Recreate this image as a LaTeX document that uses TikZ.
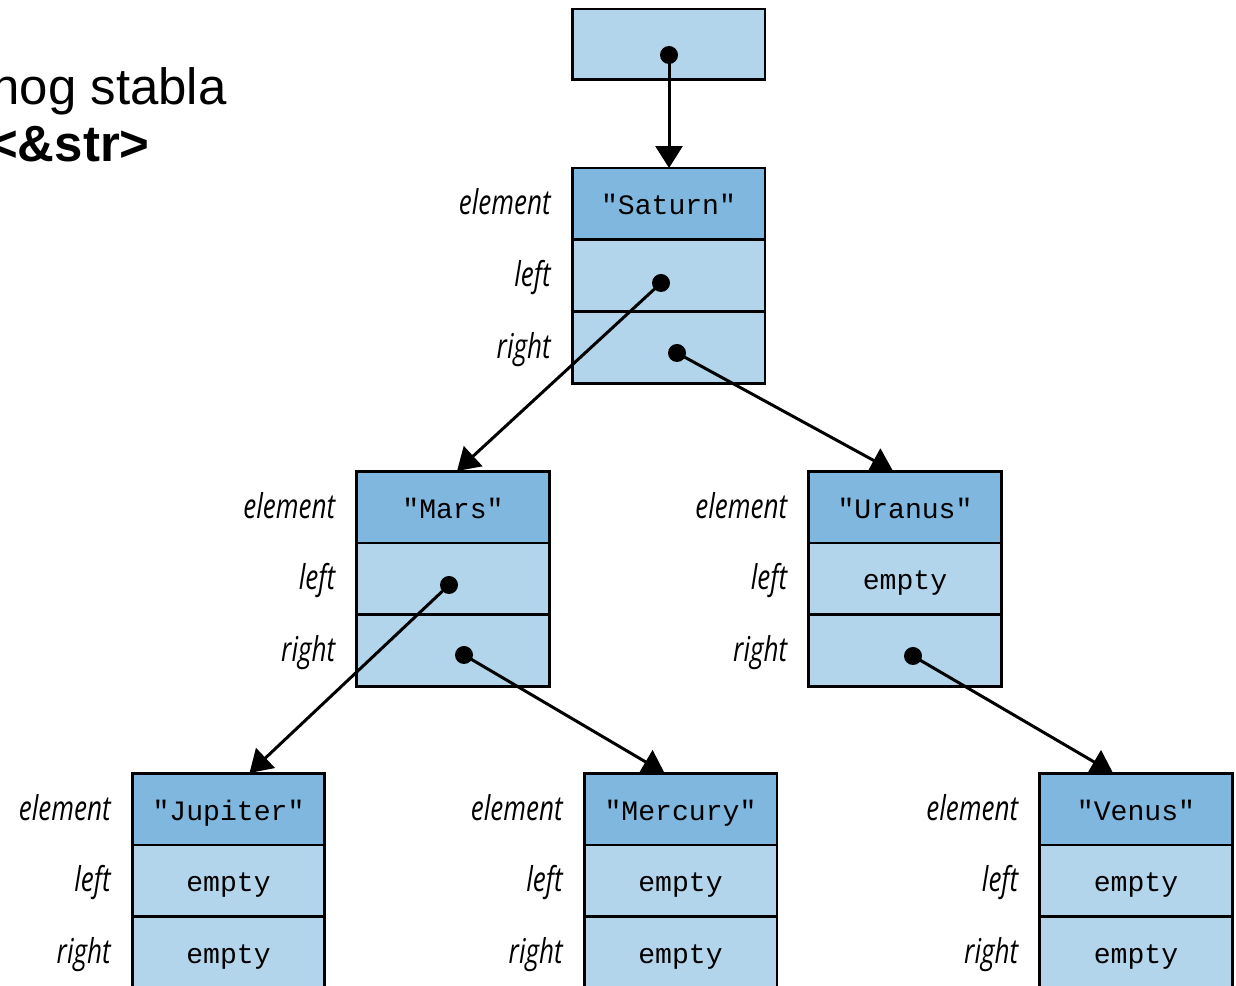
\documentclass[tikz,border=0pt]{standalone}
\usepackage{fontspec}
\setmainfont{Liberation Sans}
\newfontfamily\cellfont{Liberation Mono}
\newfontfamily\lblfont[FakeStretch=0.76]{Open Sans}
\usetikzlibrary{arrows.meta,positioning,calc}
\definecolor{elemblue}{RGB}{128,183,222}
\definecolor{cellblue}{RGB}{178,213,235}

\begin{document}
\begin{tikzpicture}[x=0.02cm,y=-0.02cm,
  cell/.style={draw,line width=1.7pt,fill=cellblue,minimum width=3.86cm,minimum height=1.44cm,
    inner sep=0pt,outer sep=0pt,font=\cellfont\fontsize{16}{16}\selectfont,text height=0.5cm,text depth=0.06cm},
  elem/.style={cell,fill=elemblue},
  lbl/.style={font=\lblfont\itshape\fontsize{19.5}{19.5}\selectfont,inner sep=0pt,
    text height=0.5cm,text depth=0.06cm,label distance=0.42cm},
  dot/.style={circle,fill=black,inner sep=0pt,minimum size=0.36cm},
  ptr/.style={line width=1.7pt,-{Triangle[width=0.54cm,length=0.44cm]}}]
\useasboundingbox (0,0) rectangle (1236,986);

% title, cut off by the page edge
\node[anchor=base east,inner sep=0pt,font=\fontsize{29}{29}\selectfont] (title) at (227,105) {nog stabla};
\node[anchor=base east,inner sep=0pt,font=\bfseries\fontsize{29}{29}\selectfont] (type) at (150,162) {<\&str>};

% root
\node[cell,minimum height=1.42cm] (root) at (668.5,44.5) {};

% Saturn
\node[elem,label={[lbl]left:element}] (sat-e) at (668.5,204) {"Saturn"};
\node[cell,below=0pt of sat-e,label={[lbl]left:left}] (sat-l) {};
\node[cell,below=0pt of sat-l,label={[lbl]left:right}] (sat-r) {};

% Mars
\node[elem,label={[lbl]left:element}] (mars-e) at (453,507) {"Mars"};
\node[cell,below=0pt of mars-e,label={[lbl]left:left}] (mars-l) {};
\node[cell,below=0pt of mars-l,label={[lbl]left:right}] (mars-r) {};

% Uranus
\node[elem,label={[lbl]left:element}] (ura-e) at (905,507) {"Uranus"};
\node[cell,below=0pt of ura-e,label={[lbl]left:left}] (ura-l) {empty};
\node[cell,below=0pt of ura-l,label={[lbl]left:right}] (ura-r) {};

% Jupiter
\node[elem,label={[lbl]left:element}] (jup-e) at (228.5,809) {"Jupiter"};
\node[cell,below=0pt of jup-e,label={[lbl]left:left}] (jup-l) {empty};
\node[cell,below=0pt of jup-l,label={[lbl]left:right}] (jup-r) {empty};

% Mercury
\node[elem,label={[lbl]left:element}] (mer-e) at (680.5,809) {"Mercury"};
\node[cell,below=0pt of mer-e,label={[lbl]left:left}] (mer-l) {empty};
\node[cell,below=0pt of mer-l,label={[lbl]left:right}] (mer-r) {empty};

% Venus
\node[elem,label={[lbl]left:element}] (ven-e) at (1136,809) {"Venus"};
\node[cell,below=0pt of ven-e,label={[lbl]left:left}] (ven-l) {empty};
\node[cell,below=0pt of ven-l,label={[lbl]left:right}] (ven-r) {empty};

% pointers
\node[dot] (root-p) at ($(root)+(0.5,10.5)$) {};
\node[dot] (sat-lp) at ($(sat-l)+(-7.5,7)$) {};
\node[dot] (sat-rp) at ($(sat-r)+(8.5,5)$) {};
\node[dot] (mars-lp) at ($(mars-l)+(-4,6)$) {};
\node[dot] (mars-rp) at ($(mars-r)+(11,4)$) {};
\node[dot] (ura-rp) at ($(ura-r)+(8,5)$) {};

\draw[ptr] (root-p.center) -- (root-p.center |- sat-e.north);
\draw[ptr] (sat-lp.center) -- ($(mars-e.north)+(4,0)$);
\draw[ptr] (sat-rp.center) -- ($(ura-e.north)+(-12,0)$);
\draw[ptr] (mars-lp.center) -- ($(jup-e.north)+(21,0)$);
\draw[ptr] (mars-rp.center) -- ($(mer-e.north)+(-16,0)$);
\draw[ptr] (ura-rp.center) -- ($(ven-e.north)+(-23,0)$);
\end{tikzpicture}
\end{document}
